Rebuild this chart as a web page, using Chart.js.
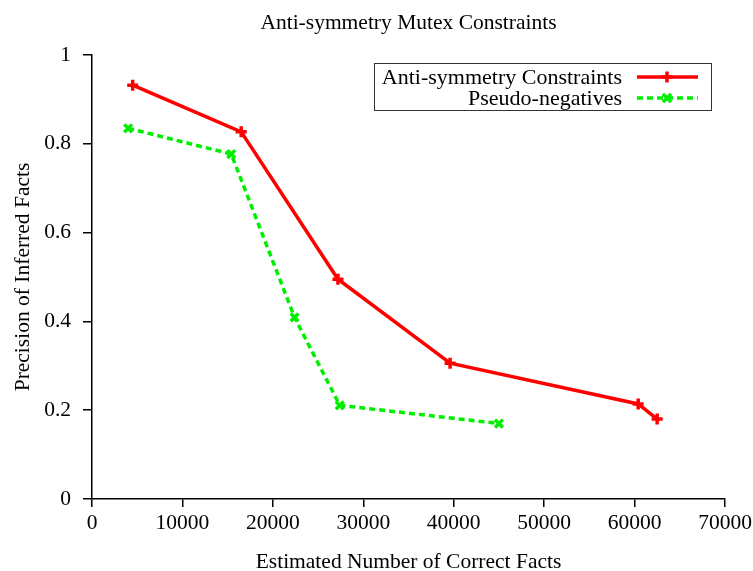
<!DOCTYPE html>
<html>
<head>
<meta charset="utf-8">
<script src="https://cdn.jsdelivr.net/npm/chart.js@4/dist/chart.umd.min.js"></script>
<style>
html,body{margin:0;padding:0;background:#fff;}
#wrap{width:753px;height:571px;}
</style>
</head>
<body>
<div id="wrap"><canvas id="c" width="753" height="571"></canvas></div>
<script>
const chartTitle = "Anti-symmetry Mutex Constraints";
const xTitle = "Estimated Number of Correct Facts";
const yTitle = "Precision of Inferred Facts";
const seriesNames = ["Anti-symmetry Constraints", "Pseudo-negatives"];
const antiX = [4500, 16500, 27200, 39600, 60400, 62500];
const antiY = [0.932, 0.827, 0.495, 0.306, 0.214, 0.180];
const pseudoX = [4000, 15400, 22400, 27400, 45000];
const pseudoY = [0.835, 0.777, 0.409, 0.211, 0.170];

const FONT = "'Liberation Serif','Times New Roman',serif";
const FS = 21.5;

const titlePlugin = {
  id: 'centeredTitle',
  afterDraw(chart) {
    const ctx = chart.ctx;
    const ca = chart.chartArea;
    ctx.save();
    ctx.font = FS + "px " + FONT;
    ctx.fillStyle = '#000';
    ctx.textAlign = 'center';
    ctx.textBaseline = 'middle';
    ctx.fillText(chartTitle, (ca.left + ca.right) / 2, 23);
    ctx.restore();
  }
};

const legendPlugin = {
  id: 'boxLegend',
  afterDraw(chart) {
    const ctx = chart.ctx;
    const ca = chart.chartArea;
    const right = ca.right - 14, top = ca.top + 8;
    const w = 337, h = 47;
    const left = right - w;
    ctx.save();
    ctx.strokeStyle = '#333';
    ctx.lineWidth = 1;
    ctx.strokeRect(left + 0.5, top + 0.5, w, h);
    ctx.font = "22px " + FONT;
    ctx.fillStyle = '#000';
    ctx.textAlign = 'right';
    ctx.textBaseline = 'middle';
    chart.data.datasets.forEach((ds, i) => {
      const y = top + 14 + i * 21;
      ctx.fillText(ds.label, right - 89, y + 1);
      ctx.strokeStyle = ds.borderColor;
      ctx.lineWidth = ds.borderWidth;
      ctx.setLineDash(ds.borderDash || []);
      ctx.beginPath();
      ctx.moveTo(right - 74, y);
      ctx.lineTo(right - 13, y);
      ctx.stroke();
      ctx.setLineDash([]);
      const cx = right - 44, r = 5.5;
      ctx.lineWidth = 3.5;
      ctx.beginPath();
      if (ds.pointStyle === 'cross') {
        ctx.moveTo(cx - r, y); ctx.lineTo(cx + r, y);
        ctx.moveTo(cx, y - r); ctx.lineTo(cx, y + r);
      } else {
        const d = r * 0.75;
        ctx.moveTo(cx - d, y - d); ctx.lineTo(cx + d, y + d);
        ctx.moveTo(cx - d, y + d); ctx.lineTo(cx + d, y - d);
      }
      ctx.stroke();
    });
    ctx.restore();
  }
};

new Chart(document.getElementById('c'), {
  type: 'line',
  data: {
    datasets: [
      {
        label: seriesNames[0],
        data: antiX.map((x, i) => ({x: x, y: antiY[i]})),
        borderColor: '#ff0000',
        backgroundColor: '#ff0000',
        borderWidth: 3.5,
        pointStyle: 'cross',
        pointRadius: 5.5,
        pointBorderWidth: 3.5,
        tension: 0,
        fill: false
      },
      {
        label: seriesNames[1],
        data: pseudoX.map((x, i) => ({x: x, y: pseudoY[i]})),
        borderColor: '#00ee00',
        backgroundColor: '#00ee00',
        borderWidth: 3.5,
        borderDash: [6, 4],
        pointStyle: 'crossRot',
        pointRadius: 5.5,
        pointBorderWidth: 3.5,
        tension: 0,
        fill: false
      }
    ]
  },
  options: {
    responsive: false,
    animation: false,
    layout: {padding: {left: 0, right: 28, top: 55, bottom: 0}},
    plugins: {
      legend: {display: false},
      tooltip: {enabled: false},
      title: {display: false}
    },
    scales: {
      x: {
        type: 'linear',
        min: 0, max: 70000,
        ticks: {stepSize: 10000, color: '#000', font: {family: FONT, size: FS}, padding: 3, maxRotation: 0,
          callback: v => String(v)},
        grid: {drawOnChartArea: false, drawTicks: true, tickLength: 8, color: '#000', lineWidth: 1.5},
        border: {color: '#000', width: 1.5},
        title: {display: true, text: xTitle, color: '#000', font: {family: FONT, size: FS}, padding: {top: 0, bottom: -4}},
        afterFit: s => { s.height = 72; s.paddingLeft = 0; s.paddingRight = 0; }
      },
      y: {
        type: 'linear',
        min: 0, max: 1,
        ticks: {stepSize: 0.2, color: '#000', font: {family: FONT, size: FS}, padding: 12,
          callback: v => String(+v.toFixed(1))},
        grid: {drawOnChartArea: false, drawTicks: true, tickLength: 9, color: '#000', lineWidth: 1.5},
        border: {color: '#000', width: 1.5},
        title: {display: true, text: yTitle, color: '#000', font: {family: FONT, size: FS}, padding: {top: 10, bottom: 0}},
        afterFit: s => { s.width = 92; }
      }
    }
  },
  plugins: [titlePlugin, legendPlugin]
});
</script>
</body>
</html>
